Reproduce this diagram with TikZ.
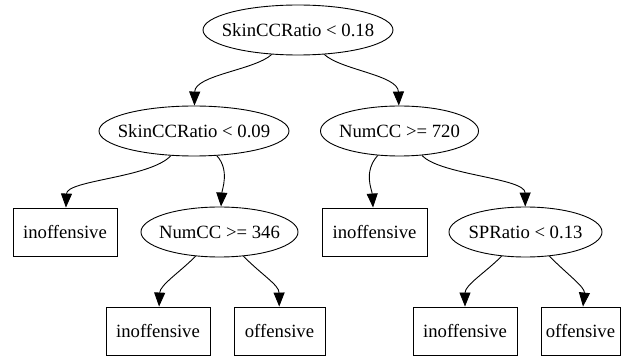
\documentclass[tikz,border=0pt]{standalone}
\usepackage{fontspec}
\setmainfont{Liberation Serif}
\usetikzlibrary{arrows.meta,shapes.geometric}
\newcommand{\zw}[1]{\makebox[0pt]{#1}}
\begin{document}
\begin{tikzpicture}[x=1pt,y=-1pt,
  every node/.style={font=\fontsize{18.7}{22}\selectfont, inner sep=0pt, line width=0.9pt},
  split/.style={draw, ellipse, minimum height=50pt},
  leaf/.style={draw, rectangle, minimum height=48pt},
  arr/.style={line width=0.9pt, -{Triangle[length=14pt,width=11pt]}}]
\useasboundingbox (0,0) rectangle (622,358);
\node[split, minimum width=190pt] (root) at (298,30) {\zw{SkinCCRatio < 0.18}};
\node[split, minimum width=190pt] (l1) at (194,131) {\zw{SkinCCRatio < 0.09}};
\node[split, minimum width=158pt] (r1) at (399.5,131) {\zw{NumCC >= 720}};
\node[leaf, minimum width=104pt] (a) at (65,232) {inoffensive};
\node[split, minimum width=157pt] (n346) at (219.5,232) {\zw{NumCC >= 346}};
\node[leaf, minimum width=105pt] (b) at (374.5,232) {inoffensive};
\node[split, minimum width=153pt] (n013) at (525.5,232) {\zw{SPRatio < 0.13}};
\node[leaf, minimum width=104pt] (c) at (158,331) {inoffensive};
\node[leaf, minimum width=91pt] (d) at (279.5,331) {offensive};
\node[leaf, minimum width=104pt] (e) at (465,331) {inoffensive};
\node[leaf, minimum width=79pt] (f) at (580.5,331) {offensive};
\draw[arr] (root) .. controls (255,70) and (195,75) .. (l1);
\draw[arr] (root) .. controls (341,70) and (398,75) .. (r1);
\draw[arr] (l1) .. controls (150,178) and (67,180) .. (a);
\draw[arr] (l1) .. controls (230,170) and (222,190) .. (n346);
\draw[arr] (r1) .. controls (363,172) and (372,190) .. (b);
\draw[arr] (r1) .. controls (440,175) and (525,178) .. (n013);
\draw[arr] (n346) .. controls (180,272) and (160,285) .. (c);
\draw[arr] (n346) .. controls (262,275) and (279,285) .. (d);
\draw[arr] (n013) .. controls (486,272) and (465,285) .. (e);
\draw[arr] (n013) .. controls (568,275) and (585,287) .. (f);
\end{tikzpicture}
\end{document}
